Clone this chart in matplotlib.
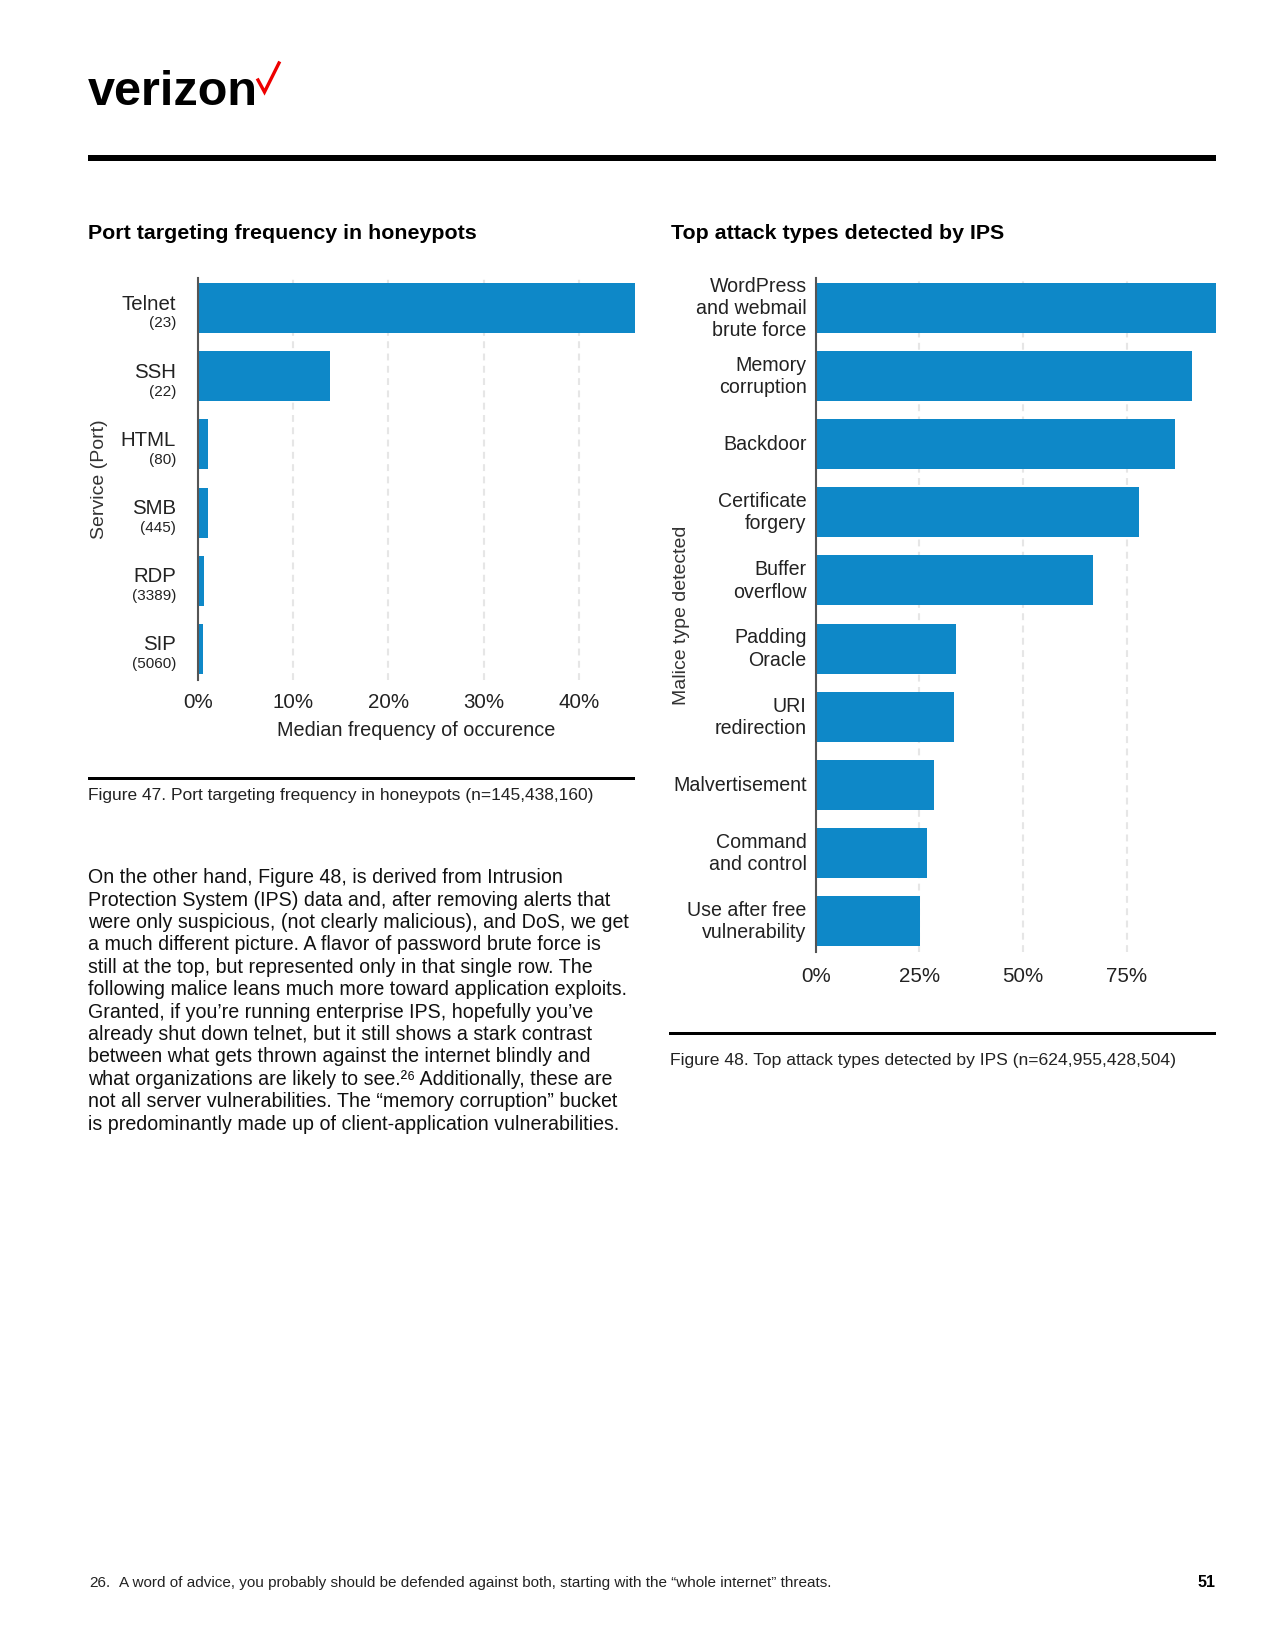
import matplotlib
matplotlib.use("Agg")
import matplotlib.pyplot as plt
from matplotlib.patches import Rectangle
from matplotlib.lines import Line2D

plt.rcParams['font.family'] = ['Liberation Sans', 'DejaVu Sans']

# ---------------- data ----------------
port_services = ["Telnet", "SSH", "HTML", "SMB", "RDP", "SIP"]
port_numbers = ["(23)", "(22)", "(80)", "(445)", "(3389)", "(5060)"]
port_freq = [45.9, 13.9, 1.05, 1.05, 0.62, 0.52]
port_ticks = [0, 10, 20, 30, 40]
port_tick_labels = ["0%", "10%", "20%", "30%", "40%"]

attack_types = ["WordPress\nand webmail\nbrute force", "Memory\ncorruption", "Backdoor",
                "Certificate\nforgery", "Buffer\noverflow", "Padding\nOracle",
                "URI\nredirection", "Malvertisement", "Command\nand control",
                "Use after free\nvulnerability"]
attack_share = [96.5, 90.7, 86.6, 78.0, 66.9, 33.8, 33.4, 28.5, 26.8, 25.1]
attack_ticks = [0, 25, 50, 75]
attack_tick_labels = ["0%", "25%", "50%", "75%"]

paragraph_lines = [
    "On the other hand, Figure 48, is derived from Intrusion",
    "Protection System (IPS) data and, after removing alerts that",
    "were only suspicious, (not clearly malicious), and DoS, we get",
    "a much different picture. A flavor of password brute force is",
    "still at the top, but represented only in that single row. The",
    "following malice leans much more toward application exploits.",
    "Granted, if you\u2019re running enterprise IPS, hopefully you\u2019ve",
    "already shut down telnet, but it still shows a stark contrast",
    "between what gets thrown against the internet blindly and",
    "what organizations are likely to see.\u00b2\u2076 Additionally, these are",
    "not all server vulnerabilities. The \u201cmemory corruption\u201d bucket",
    "is predominantly made up of client-application vulnerabilities.",
]

# ---------------- style ----------------
BLUE = "#0E88C8"
GRID = "#e6e6e6"
SPINE = "#555555"
TXT = "#222222"
PX = 72 / 100  # points per pixel at dpi 100

W, H = 1275, 1650
fig = plt.figure(figsize=(W / 100, H / 100), dpi=100)


def fx(px):
    return px / W


def fy(py):
    return 1 - py / H


def style_axis(ax, ticks, labels, pad):
    ax.set_xticks(ticks, labels)
    ax.set_yticks([])
    ax.tick_params(axis='x', length=0, pad=pad, labelsize=14.8, labelcolor=TXT)
    for s in ("top", "right", "bottom"):
        ax.spines[s].set_visible(False)
    ax.spines["left"].set_color(SPINE)
    ax.spines["left"].set_linewidth(1.5)
    ax.grid(axis='x', color=GRID, linewidth=1.5, linestyle=(0, (3.3, 2.6)))
    ax.set_axisbelow(True)


# ---------------- left chart ----------------
ax1 = fig.add_axes([fx(198), fy(680), (635 - 198) / W, (680 - 278) / H])
ax1.barh(range(len(port_services)), port_freq, height=0.734, color=BLUE)
ax1.set_xlim(0, max(port_freq))
ax1.set_ylim(len(port_services) - 1 + 0.455, -0.44)
style_axis(ax1, port_ticks, port_tick_labels, 9.5)
ytr = ax1.get_yaxis_transform()
for i, (n, p) in enumerate(zip(port_services, port_numbers)):
    ax1.annotate(n, xy=(0, i), xycoords=ytr, xytext=(-15.8, -1.1),
                 textcoords='offset points', ha='right', va='baseline',
                 fontsize=14.7, color=TXT)
    ax1.annotate(p, xy=(0, i), xycoords=ytr, xytext=(-15.8, -14.0),
                 textcoords='offset points', ha='right', va='baseline',
                 fontsize=11, color=TXT)
ax1.set_xlabel("Median frequency of occurence", fontsize=14.3, color=TXT, labelpad=6)
ax1.set_ylabel("Service (Port)", fontsize=14, color="#333333", va='center')
ax1.yaxis.set_label_coords((99 - 198) / 437, 0.5)

# ---------------- right chart ----------------
ax2 = fig.add_axes([fx(815.7), fy(952), (1216 - 815.7) / W, (952 - 278) / H])
ax2.barh(range(len(attack_types)), attack_share, height=0.734, color=BLUE)
ax2.set_xlim(0, max(attack_share))
ax2.set_ylim(len(attack_types) - 1 + 0.455, -0.44)
style_axis(ax2, attack_ticks, attack_tick_labels, 10.5)
ytr2 = ax2.get_yaxis_transform()
CAP, STEP = 14.0, 22.2  # cap height and baseline step in pixels
for i, n in enumerate(attack_types):
    lines = n.split("\n")
    k = len(lines)
    first_down = -1 - (CAP + STEP * (k - 1)) / 2 + CAP
    for j, ln in enumerate(lines):
        down = first_down + STEP * j
        ax2.annotate(ln, xy=(0, i), xycoords=ytr2, xytext=(-6.5, -down * PX),
                     textcoords='offset points', ha='right', va='baseline',
                     fontsize=14.1, color=TXT)
ax2.set_ylabel("Malice type detected", fontsize=14, color="#333333", va='center')
ax2.yaxis.set_label_coords((681 - 815.7) / 400.3, 0.5)

# ---------------- page furniture ----------------
fig.text(fx(88), fy(105), "verizon", fontsize=35, fontweight='bold',
         va='baseline', color='black')
fig.add_artist(Line2D([fx(258), fx(264.5), fx(279)], [fy(80), fy(92), fy(63)],
                      color="#EE0000", linewidth=2.4, solid_joinstyle='miter',
                      transform=fig.transFigure))


def rule(x0, x1, y0, y1):
    fig.add_artist(Rectangle((fx(x0), fy(y1)), (x1 - x0) / W, (y1 - y0) / H,
                             transform=fig.transFigure, facecolor='black',
                             edgecolor='none'))


rule(88, 1216, 155, 161)
rule(88, 635, 776.5, 779.5)
rule(669, 1216, 1031.5, 1034.5)

fig.text(fx(88), fy(239), "Port targeting frequency in honeypots", fontsize=15.4,
         fontweight='bold', va='baseline', color='black')
fig.text(fx(671), fy(239), "Top attack types detected by IPS", fontsize=15.4,
         fontweight='bold', va='baseline', color='black')

fig.text(fx(88), fy(800), "Figure 47. Port targeting frequency in honeypots (n=145,438,160)",
         fontsize=12.5, va='baseline', color=TXT)
fig.text(fx(670), fy(1065), "Figure 48. Top attack types detected by IPS (n=624,955,428,504)",
         fontsize=12.6, va='baseline', color=TXT)

for i, line in enumerate(paragraph_lines):
    fig.text(fx(88.3), fy(883.3 + 22.4 * i), line, fontsize=14.1,
             va='baseline', color='#111111')

fig.text(fx(89), fy(1586.7), "26.", fontsize=11, va='baseline', color=TXT)
fig.text(fx(119), fy(1586.7),
         "A word of advice, you probably should be defended against both, starting with the \u201cwhole internet\u201d threats.",
         fontsize=11, va='baseline', color=TXT)
fig.text(fx(1216), fy(1586.7), "51", fontsize=11.5, fontweight='bold',
         va='baseline', ha='right', color='black')

fig.savefig("out.png", dpi=100)
